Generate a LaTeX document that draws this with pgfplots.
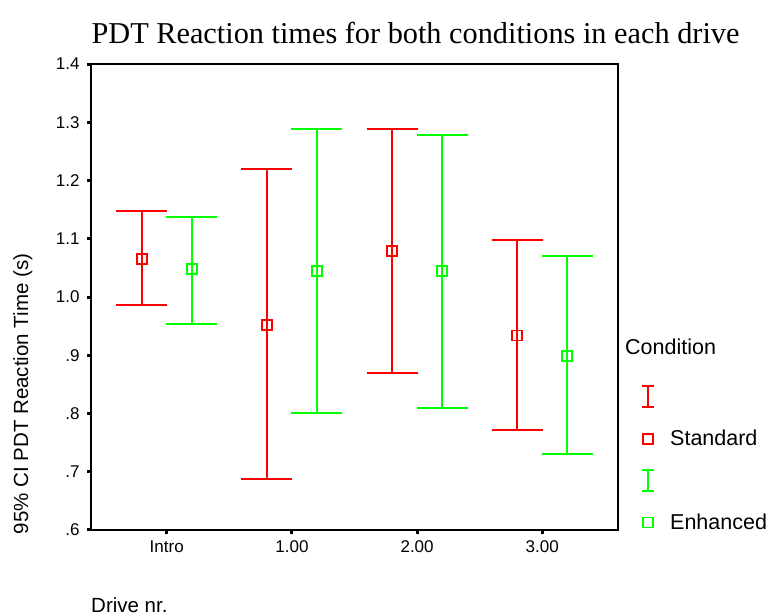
\documentclass[border=0pt]{standalone}
\usepackage{pgfplots}
\pgfplotsset{compat=1.18}
\usepackage{fontspec}
\setmainfont{Liberation Sans}
\newfontfamily\titlefont{Liberation Serif}
\begin{document}
\begin{tikzpicture}
\useasboundingbox (0pt,0pt) rectangle (769pt,616pt);
\begin{axis}[
  at={(91pt,86pt)}, anchor=south west,
  width=527pt, height=466pt, scale only axis,
  xmin=-0.605, xmax=3.605, ymin=0.6, ymax=1.4,
  xtick={0,1,2,3}, xticklabels={Intro,1.00,2.00,3.00},
  ytick={0.6,0.7,0.8,0.9,1.0,1.1,1.2,1.3,1.4},
  yticklabels={.6,.7,.8,.9,1.0,1.1,1.2,1.3,1.4},
  xtick pos=bottom, ytick pos=left,
  tick align=outside, major tick length=4pt,
  tick style={black, line width=3pt},
  axis line style={black, line width=1.3pt},
  ticklabel style={font=\fontsize{17}{17}\selectfont},
  yticklabel style={xshift=-4pt},
  xticklabel style={yshift=-3pt},
  clip=false,
  legend style={draw=none, fill=none, at={(1.044,0.311)}, anchor=north west,
    font=\fontsize{21.5}{21.5}\selectfont, row sep=22pt, inner sep=0pt,
    nodes={inner xsep=8pt, inner ysep=0pt}},
  legend cell align=left,
]
\addplot[red, forget plot, only marks, mark=square, mark size=5pt,
  mark options={solid, red, line width=1.8pt},
  error bars/.cd, y dir=both, y explicit, error mark=|,
  error bar style={red, line width=2pt},
  error mark options={red, line width=2pt, mark size=25.5pt}]
  table[x=x, y=m, y error plus=ep, y error minus=em] {
x m ep em
-0.2 1.065 0.082 0.079
0.8 0.952 0.267 0.265
1.8 1.079 0.209 0.209
2.8 0.934 0.164 0.162
};
\addplot[green, forget plot, only marks, mark=square, mark size=5pt,
  mark options={solid, green, line width=1.8pt},
  error bars/.cd, y dir=both, y explicit, error mark=|,
  error bar style={green, line width=2pt},
  error mark options={green, line width=2pt, mark size=25.5pt}]
  table[x=x, y=m, y error plus=ep, y error minus=em] {
x m ep em
0.2 1.048 0.090 0.094
1.2 1.045 0.244 0.244
2.2 1.045 0.233 0.236
3.2 0.899 0.172 0.169
};
\addlegendimage{legend image code/.code={\draw[red,line width=1.8pt] (0pt,-10.5pt)--(0pt,10.5pt) (-6pt,-10.5pt)--(6pt,-10.5pt) (-6pt,10.5pt)--(6pt,10.5pt);}}
\addlegendentry{\phantom{Standard}}
\addlegendimage{legend image code/.code={\draw[red,line width=1.8pt] (-5pt,-5pt) rectangle (5pt,5pt);}}
\addlegendentry{\hspace{7pt}Standard}
\addlegendimage{legend image code/.code={\draw[green,line width=1.8pt] (0pt,-10.5pt)--(0pt,10.5pt) (-6pt,-10.5pt)--(6pt,-10.5pt) (-6pt,10.5pt)--(6pt,10.5pt);}}
\addlegendentry{\phantom{Standard}}
\addlegendimage{legend image code/.code={\draw[green,line width=1.8pt] (-5pt,-5pt) rectangle (5pt,5pt);}}
\addlegendentry{\hspace{7pt}Enhanced}
\end{axis}
\node[anchor=base, font=\titlefont\fontsize{30.3}{30.3}\selectfont] at (415.5pt,572pt) {PDT Reaction times for both conditions in each drive};
\node[anchor=base, rotate=90, font=\fontsize{20.5}{20.5}\selectfont] at (28pt,222pt) {95\% CI PDT Reaction Time (s)};
\node[anchor=base west, inner sep=0pt, font=\fontsize{20.5}{20.5}\selectfont] at (91pt,3pt) {Drive nr.};
\node[anchor=base west, inner sep=0pt, font=\fontsize{21.5}{21.5}\selectfont] at (625pt,261pt) {Condition};
\end{tikzpicture}
\end{document}
